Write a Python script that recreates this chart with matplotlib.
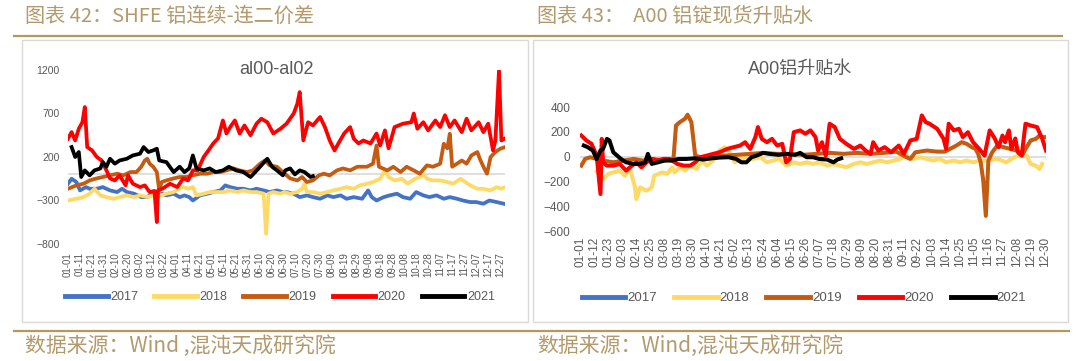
import matplotlib
matplotlib.use("Agg")
import matplotlib.pyplot as plt
from matplotlib.lines import Line2D
from matplotlib.patches import Rectangle
import pandas as pd

# ---- data: day of year (0 = 01-01) and value ----
# left chart: SHFE al00 - al02 spread
l17_d = [0, 3, 7, 10, 15, 18, 24, 29, 35, 41, 45, 49, 55, 61, 66, 70, 74, 78, 82, 88,
         93, 97, 101, 104, 110, 116, 121, 127, 131, 135, 141, 146, 152, 157, 163, 168, 174, 179,
         182, 188, 193, 199, 204, 210, 216, 221, 227, 232, 238, 245, 250, 253, 257, 263, 268, 274,
         279, 285, 290, 296, 301, 307, 313, 318, 324, 329, 335, 340, 346, 351, 357, 363]
l17_v = [-107, -50, -88, -184, -146, -165, -165, -146, -184, -203, -165, -203, -222, -261, -261, -222, -261, -222, -241, -222,
         -261, -241, -261, -300, -241, -222, -203, -184, -126, -146, -165, -165, -184, -165, -184, -203, -184, -203,
         -203, -222, -261, -241, -261, -280, -241, -261, -241, -280, -261, -280, -184, -261, -300, -261, -241, -222,
         -261, -280, -203, -241, -261, -241, -280, -261, -280, -300, -318, -318, -337, -300, -318, -337]

l18_d = [0, 7, 13, 18, 22, 27, 32, 38, 43, 49, 55, 60, 66, 71, 77, 82, 88, 92, 96, 100,
         104, 107, 113, 118, 124, 129, 135, 141, 146, 152, 157, 163, 165, 167, 171, 177,
         180, 185, 191, 195, 197, 199, 204, 210, 216, 221, 227, 232, 238, 243, 249, 254, 260, 264, 267, 272,
         278, 283, 289, 293, 296, 299, 304, 310, 316, 321, 327, 331, 335, 341, 346, 352, 357, 361, 364]
l18_v = [-300, -280, -261, -222, -165, -241, -261, -280, -261, -241, -261, -241, -261, -241, -241, -222, -203, -165, -146, -165,
         -146, -241, -222, -203, -203, -203, -184, -203, -184, -203, -203, -222, -682, -222, -203, -222,
         -203, -222, -203, -165, -107, -203, -203, -222, -203, -184, -165, -146, -165, -126, -107, -88, -50, 46, -30, -69,
         -50, -107, -50, -30, 8, -50, -69, -69, -88, -107, -50, -88, -126, -165, -165, -184, -146, -165, -146]

l19_d = [0, 7, 13, 18, 24, 29, 35, 41, 46, 52, 57, 61, 64, 66, 68, 71, 74, 76, 78, 82,
         88, 93, 99, 104, 110, 116, 121, 127, 132, 138, 143, 149, 154, 160, 164, 168, 174, 179, 185, 191,
         195, 199, 204, 209, 213, 218, 224, 229, 235, 241, 249, 254, 257, 259, 266, 271, 277, 282, 288, 293,
         299, 304, 310, 313, 316, 318, 320, 324, 328, 332, 336, 341, 343, 346, 349, 352, 356, 360, 364]
l19_v = [-165, -126, -107, -69, -46, -30, -11, 8, -11, 27, 27, 88, 160, 180, 123, 88, 27, -184, -88, -69,
         -46, -30, -30, -11, 8, 8, 27, 27, 46, 69, 46, 27, 46, 123, 160, 104, 88, 27, -46, -69,
         -30, -88, -69, -11, 8, -11, 46, 69, 46, 88, 88, 123, 333, 88, 46, 88, 27, 88, 46, 8,
         104, 88, 123, 352, 300, 467, 88, 123, 160, 123, 218, 257, 180, 88, 8, 200, 257, 295, 314]

l20_d = [0, 3, 6, 9, 12, 14, 16, 20, 24, 28, 32, 35, 39, 43, 48, 50, 54, 60, 64, 68,
         72, 74, 75, 79, 85, 91, 96, 100, 104, 108, 113, 117, 121, 125, 129, 132, 136, 139, 143, 147,
         152, 157, 161, 166, 171, 177, 182, 188, 191, 193, 196, 200, 204, 210, 214, 218, 222, 226, 230, 235,
         238, 242, 246, 252, 257, 260, 264, 267, 272, 279, 286, 288, 291, 296, 300, 306, 310, 314, 318, 322,
         328, 332, 336, 342, 346, 350, 354, 356, 359, 361, 364]
l20_v = [410, 486, 390, 525, 600, 774, 314, 276, 200, 160, 46, -46, -69, -11, -126, -11, -107, -146, -126, -203,
         -190, -548, -184, -161, -107, -146, -46, -69, 46, 46, 200, 276, 356, 414, 620, 470, 563, 620, 470, 563,
         450, 583, 640, 600, 470, 525, 583, 700, 812, 946, 390, 600, 563, 660, 544, 390, 276, 375, 470, 544,
         410, 356, 390, 356, 470, 333, 506, 300, 544, 583, 600, 700, 525, 600, 506, 620, 544, 680, 544, 620,
         486, 640, 506, 600, 486, 583, 276, 390, 1196, 390, 414]

l21_d = [3, 6, 9, 11, 14, 18, 22, 27, 29, 32, 35, 39, 43, 49, 54, 60, 63, 67, 71, 74,
         76, 82, 88, 93, 97, 101, 104, 107, 113, 118, 123, 129, 134, 140, 146, 152, 156, 160, 166, 170,
         174, 179, 181, 185, 189, 193, 197, 202, 204]
l21_v = [314, 200, 257, -30, 46, -11, 46, 69, 141, 88, 180, 123, 160, 180, 218, 238, 314, 257, 276, 295,
         160, 141, 27, 88, 27, 69, 218, 69, 46, 69, 27, 46, 88, 46, 27, -30, 27, 88, 180, 88,
         46, -11, 46, 69, 0, 46, 27, -30, -20]

# right chart: A00 spot premium / discount
r17_d = []
r17_v = []

r18_d = [13, 18, 22, 26, 31, 35, 39, 43, 44, 47, 52, 56, 58, 64, 68, 72, 74, 78, 82, 86,
         91, 95, 99, 104, 109, 113, 117, 121, 125, 130, 135, 141, 146, 151, 156, 161, 167, 172, 177, 182,
         187, 193, 198, 203, 208, 214, 219, 224, 229, 234, 240, 245, 250, 255, 260, 266, 271, 276, 281, 286,
         292, 297, 302, 307, 312, 318, 326, 333, 339, 344, 349, 352, 356, 359, 361]
r18_v = [-120, -181, -140, -127, -113, -154, -100, -248, -343, -248, -275, -248, -154, -127, -140, -86, -127, -86, -113, -73,
         -100, -32, -73, -32, 49, 76, 35, -46, -19, -5, -19, -5, -46, -32, -19, -73, -46, -59, -46, -59,
         -46, -73, -59, -73, -86, -59, -46, -59, -46, -32, -46, -32, -19, 8, -19, -5, -19, -32, -19, -46,
         -32, -46, -32, -46, -32, -32, -19, -46, -5, 8, 8, -59, -73, -100, -59]

r19_d = [1, 4, 8, 13, 18, 26, 34, 42, 49, 57, 65, 73, 75, 78, 82, 84, 87, 90, 94, 102,
         112, 122, 133, 143, 154, 164, 174, 185, 195, 206, 216, 227, 237, 247, 255, 258, 262, 271, 279, 285,
         289, 294, 298, 302, 306, 309, 311, 313, 315, 317, 319, 322, 326, 331, 336, 341, 346, 348, 352, 356,
         359, 361, 364]
r19_v = [-73, -19, -5, -19, -32, -46, -32, -19, -32, -19, -32, -19, 251, 278, 305, 338, 278, 8, -5, -5,
         8, 14, 22, 30, 22, 22, 14, 22, 30, 22, 30, 22, 30, 40, -5, -19, 35, 49, 40, 40,
         62, 89, 116, 103, 76, 62, 22, -46, -194, -478, -32, 35, 89, 76, 62, 49, 22, 62, 130, 143,
         170, 157, 157]

r20_d = [1, 5, 9, 13, 16, 17, 18, 21, 26, 31, 36, 39, 44, 48, 52, 56, 60, 65, 70, 76,
         81, 86, 90, 94, 99, 104, 109, 115, 120, 125, 129, 133, 137, 139, 142, 146, 150, 154, 158, 161,
         164, 167, 172, 176, 180, 184, 186, 189, 192, 195, 199, 203, 208, 214, 219, 223, 227, 229, 233, 238,
         243, 249, 253, 258, 263, 267, 270, 273, 279, 284, 286, 288, 292, 296, 299, 303, 307, 312, 316, 320,
         324, 327, 330, 332, 335, 337, 340, 342, 345, 348, 352, 357, 361, 364]
r20_v = [170, 130, 103, 8, -302, 143, -46, -73, -73, -59, -113, -86, -46, -86, -46, -19, -32, -19, -19, -59,
         -73, -73, -46, -5, 8, 22, 35, 62, 76, 89, 116, 62, 157, 238, 143, 116, 143, 89, 103, -46,
         -19, 197, 211, 184, 211, 157, 49, 116, 8, 265, 238, 143, 103, 62, 89, 49, 22, 116, 49, 76,
         35, 89, 22, 130, 143, 332, 278, 265, 224, 143, 62, 265, 211, 224, 157, 197, 116, 60, 8, 211,
         146, 76, 170, 116, 211, 62, 146, 35, 8, 265, 251, 238, 146, 49]

r21_d = [3, 6, 10, 13, 16, 18, 21, 23, 26, 29, 32, 36, 42, 47, 51, 53, 56, 61, 66, 72,
         77, 83, 90, 96, 103, 109, 116, 122, 126, 130, 134, 138, 143, 148, 155, 161, 168, 172, 177, 182,
         187, 193, 198, 201, 204]
r21_v = [89, 76, 49, -19, 49, 62, 143, 130, 35, 8, -19, -46, -59, -59, -46, 22, -59, -46, -32, -32,
         -19, -19, -14, -24, -14, -8, -5, -19, -46, -46, -5, 8, 30, 22, 14, 22, 14, 30, -5, -5,
         -19, -24, -46, -24, -14]

years = ["2017", "2018", "2019", "2020", "2021"]
colors = ["#4472C4", "#FFD966", "#C55A11", "#FF0000", "#000000"]

left_tick_days = list(range(0, 365, 10))
right_tick_days = list(range(0, 365, 11))
calendar = pd.date_range("2021-01-01", periods=365, freq="D")

W, H = 1080, 361
TAN = "#b39a6c"
GRAY = "#595959"
CJK = ["Noto Sans CJK SC", "DejaVu Sans"]
plt.rcParams["font.family"] = ["Liberation Sans", "Noto Sans CJK SC", "DejaVu Sans"]


def rect(x0, y0, x1, y1):
    return [x0 / W, 1 - y1 / H, (x1 - x0) / W, (y1 - y0) / H]


fig = plt.figure(figsize=(W / 100, H / 100), dpi=100)

# panel frames and header / footer rules
for x0, x1 in [(22, 528), (533, 1068)]:
    fig.patches.append(Rectangle((x0 / W, 1 - 322 / H), (x1 - x0) / W, 282 / H,
                                 transform=fig.transFigure, fill=False, ec="#d9d9d9", lw=1.0))
fig.add_artist(Line2D([14 / W, 1062 / W], [1 - 36 / H] * 2, color="#b8975e", lw=1.6))
fig.add_artist(Line2D([14 / W, 1069 / W], [1 - 331 / H] * 2, color="#b8975e", lw=1.6))

fig.text(25 / W, 1 - 16 / H, "图表 42：SHFE 铝连续-连二价差", fontsize=14.5, color=TAN,
         va="center", family=CJK)
fig.text(537 / W, 1 - 16 / H, "图表 43：  A00 铝锭现货升贴水", fontsize=14.5, color=TAN,
         va="center", family=CJK)
fig.text(25 / W, 1 - 346 / H, "数据来源：Wind ,混沌天成研究院", fontsize=15, color=TAN,
         va="center", family=CJK)
fig.text(537 / W, 1 - 346 / H, "数据来源：Wind,混沌天成研究院", fontsize=15, color=TAN,
         va="center", family=CJK)

# ---- left chart ----
axL = fig.add_axes(rect(68, 70, 505, 244))
axL.axhline(0, color="#d9d9d9", lw=1.2, zorder=1)
left_series = [(l17_d, l17_v), (l18_d, l18_v), (l19_d, l19_v), (l20_d, l20_v), (l21_d, l21_v)]
for (d, v), c, y in zip(left_series, colors, years):
    axL.plot(d, v, color=c, lw=2.7, label=y, solid_joinstyle="round", zorder=2)
axL.set_xlim(0, 364)
axL.set_ylim(-800, 1200)
axL.set_yticks([-800, -300, 200, 700, 1200])
axL.set_xticks(left_tick_days)
axL.set_xticklabels(calendar[left_tick_days].strftime("%m-%d"), rotation=90)
axL.tick_params(axis="y", length=0, labelsize=7.5, labelcolor=GRAY, pad=6)
axL.tick_params(axis="x", length=0, labelsize=7, labelcolor=GRAY, pad=6)
for s in axL.spines.values():
    s.set_visible(False)
fig.text(276 / W, 1 - 70 / H, "al00-al02", fontsize=13, color=GRAY, ha="center", va="center")

hL = [Line2D([], [], color=c, lw=3.5) for c in colors]
fig.legend(hL, years, loc="center", bbox_to_anchor=(280 / W, 1 - 297 / H), ncol=5,
           frameon=False, fontsize=9, labelcolor=GRAY, handlelength=3.4,
           handletextpad=0.2, columnspacing=1.3, borderpad=0)

# ---- right chart ----
axR = fig.add_axes(rect(580, 107, 1046, 231))
axR.axhline(0, color="#d9d9d9", lw=1.2, zorder=1)
right_series = [(r17_d, r17_v), (r18_d, r18_v), (r19_d, r19_v), (r20_d, r20_v), (r21_d, r21_v)]
for (d, v), c, y in zip(right_series, colors, years):
    axR.plot(d, v, color=c, lw=2.9, label=y, solid_joinstyle="round", zorder=2)
axR.set_xlim(0, 364)
axR.set_ylim(-600, 400)
axR.set_yticks(list(range(-600, 401, 200)))
axR.set_xticks(right_tick_days)
axR.set_xticklabels(calendar[right_tick_days].strftime("%m-%d"), rotation=90)
axR.tick_params(axis="y", length=0, labelsize=8.5, labelcolor=GRAY, pad=7)
axR.tick_params(axis="x", length=0, labelsize=8.5, labelcolor=GRAY, pad=4)
for s in axR.spines.values():
    s.set_visible(False)
fig.text(800 / W, 1 - 69 / H, "A00铝升贴水", fontsize=13, color=GRAY, ha="center", va="center")

hR = [Line2D([], [], color=c, lw=3.5) for c in colors]
fig.legend(hR, years, loc="center", bbox_to_anchor=(804 / W, 1 - 298 / H), ncol=5,
           frameon=False, fontsize=9.5, labelcolor=GRAY, handlelength=3.3,
           handletextpad=0.15, columnspacing=1.3, borderpad=0)

fig.savefig("out.png", dpi=100)
